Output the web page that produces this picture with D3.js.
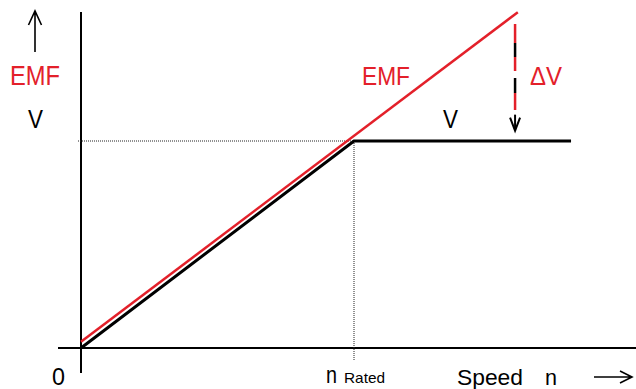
<!DOCTYPE html>
<html>
<head>
<meta charset="utf-8">
<script src="https://cdn.jsdelivr.net/npm/d3@7"></script>
<style>
  html, body { margin: 0; padding: 0; background: #fff; }
  svg { display: block; font-family: "Liberation Sans", Arial, sans-serif; }
</style>
</head>
<body>
<svg id="chart" width="636" height="389"></svg>
<script>
// Terminal voltage V: rises with speed up to the rated point, then held constant
const speedV = [0, 1, 1.795];
const valueV = [0, 1, 1];
// Back EMF: keeps rising linearly with speed
const speedEMF = [0, 1.6];
const valueEMF = [0.03, 1.622];
// Voltage gap ΔV shown at high speed
const deltaSpeed = 1.59;
const deltaRange = [1.565, 1.05];
// Rated operating point
const ratedSpeed = 1;
const ratedValue = 1;

const RED = "#e3202a";
const svg = d3.select("#chart");

const x = d3.scaleLinear().domain([0, 1]).range([81, 354]);
const y = d3.scaleLinear().domain([0, 1]).range([348, 141]);

const line = d3.line().x(d => x(d[0])).y(d => y(d[1]));

// axes
svg.append("line").attr("x1", 58).attr("x2", 636).attr("y1", y(0)).attr("y2", y(0))
  .attr("stroke", "#000").attr("stroke-width", 2);
svg.append("line").attr("x1", x(0)).attr("x2", x(0)).attr("y1", 12).attr("y2", 373)
  .attr("stroke", "#000").attr("stroke-width", 2);

// dotted guides to the rated point
svg.append("line").attr("x1", 78).attr("x2", x(ratedSpeed)).attr("y1", y(ratedValue)).attr("y2", y(ratedValue))
  .attr("stroke", "#222").attr("stroke-width", 1).attr("stroke-dasharray", "1,1");
svg.append("line").attr("x1", x(ratedSpeed)).attr("x2", x(ratedSpeed)).attr("y1", y(ratedValue)).attr("y2", 361)
  .attr("stroke", "#222").attr("stroke-width", 1).attr("stroke-dasharray", "1,1");

// V curve
svg.append("path").datum(d3.zip(speedV, valueV)).attr("d", line)
  .attr("fill", "none").attr("stroke", "#000").attr("stroke-width", 3);
// EMF curve
svg.append("path").datum(d3.zip(speedEMF, valueEMF)).attr("d", line)
  .attr("fill", "none").attr("stroke", RED).attr("stroke-width", 2.5);

// ΔV arrow: alternating red / black dashes
const ax = x(deltaSpeed);
const yTop = y(deltaRange[0]);
const yTip = y(deltaRange[1]);
svg.append("line").attr("x1", ax).attr("x2", ax).attr("y1", yTop).attr("y2", yTop + 86)
  .attr("stroke", RED).attr("stroke-width", 2.5).attr("stroke-dasharray", "19,14,14,22,17");
svg.append("line").attr("x1", ax).attr("x2", ax).attr("y1", yTop + 19).attr("y2", yTop + 69)
  .attr("stroke", "#000").attr("stroke-width", 2.5).attr("stroke-dasharray", "14,21,15");
svg.append("line").attr("x1", ax).attr("x2", ax).attr("y1", yTip - 16).attr("y2", yTip)
  .attr("stroke", "#000").attr("stroke-width", 2);
svg.append("path").attr("d", `M${ax - 5},${yTip - 13} L${ax},${yTip} L${ax + 5},${yTip - 13}`)
  .attr("fill", "none").attr("stroke", "#000").attr("stroke-width", 2);

// vertical-axis arrow
svg.append("path").attr("d", "M35,52 L35,11 M28.5,25 L35,11 L41.5,25")
  .attr("fill", "none").attr("stroke", "#000").attr("stroke-width", 1.6);
// horizontal-axis arrow
svg.append("path").attr("d", "M594,377 L632,377 M620,371 L632,377 L620,383")
  .attr("fill", "none").attr("stroke", "#000").attr("stroke-width", 1.6);

// labels
const labels = [
  { t: "EMF", x: 10, y: 85, s: 28, w: 50, c: RED },
  { t: "V", x: 28, y: 128, s: 25, w: 15, c: "#000" },
  { t: "EMF", x: 362, y: 85, s: 25, w: 48, c: RED },
  { t: "ΔV", x: 530, y: 85, s: 25, w: 32, c: RED },
  { t: "V", x: 443, y: 128, s: 25, w: 15, c: "#000" },
  { t: "0", x: 52, y: 385, s: 24, w: 13, c: "#000" },
  { t: "n", x: 326, y: 383, s: 24, w: 11, c: "#000" },
  { t: "Rated", x: 344, y: 383, s: 15, w: 41, c: "#000" },
  { t: "Speed", x: 457, y: 385, s: 22, w: 66, c: "#000" },
  { t: "n", x: 545, y: 385, s: 22, w: 12, c: "#000" }
];
svg.selectAll("text.lbl").data(labels).enter().append("text")
  .attr("class", "lbl")
  .attr("x", d => d.x).attr("y", d => d.y)
  .attr("font-size", d => d.s)
  .attr("fill", d => d.c)
  .attr("textLength", d => d.w)
  .attr("lengthAdjust", "spacingAndGlyphs")
  .text(d => d.t);
</script>
</body>
</html>
